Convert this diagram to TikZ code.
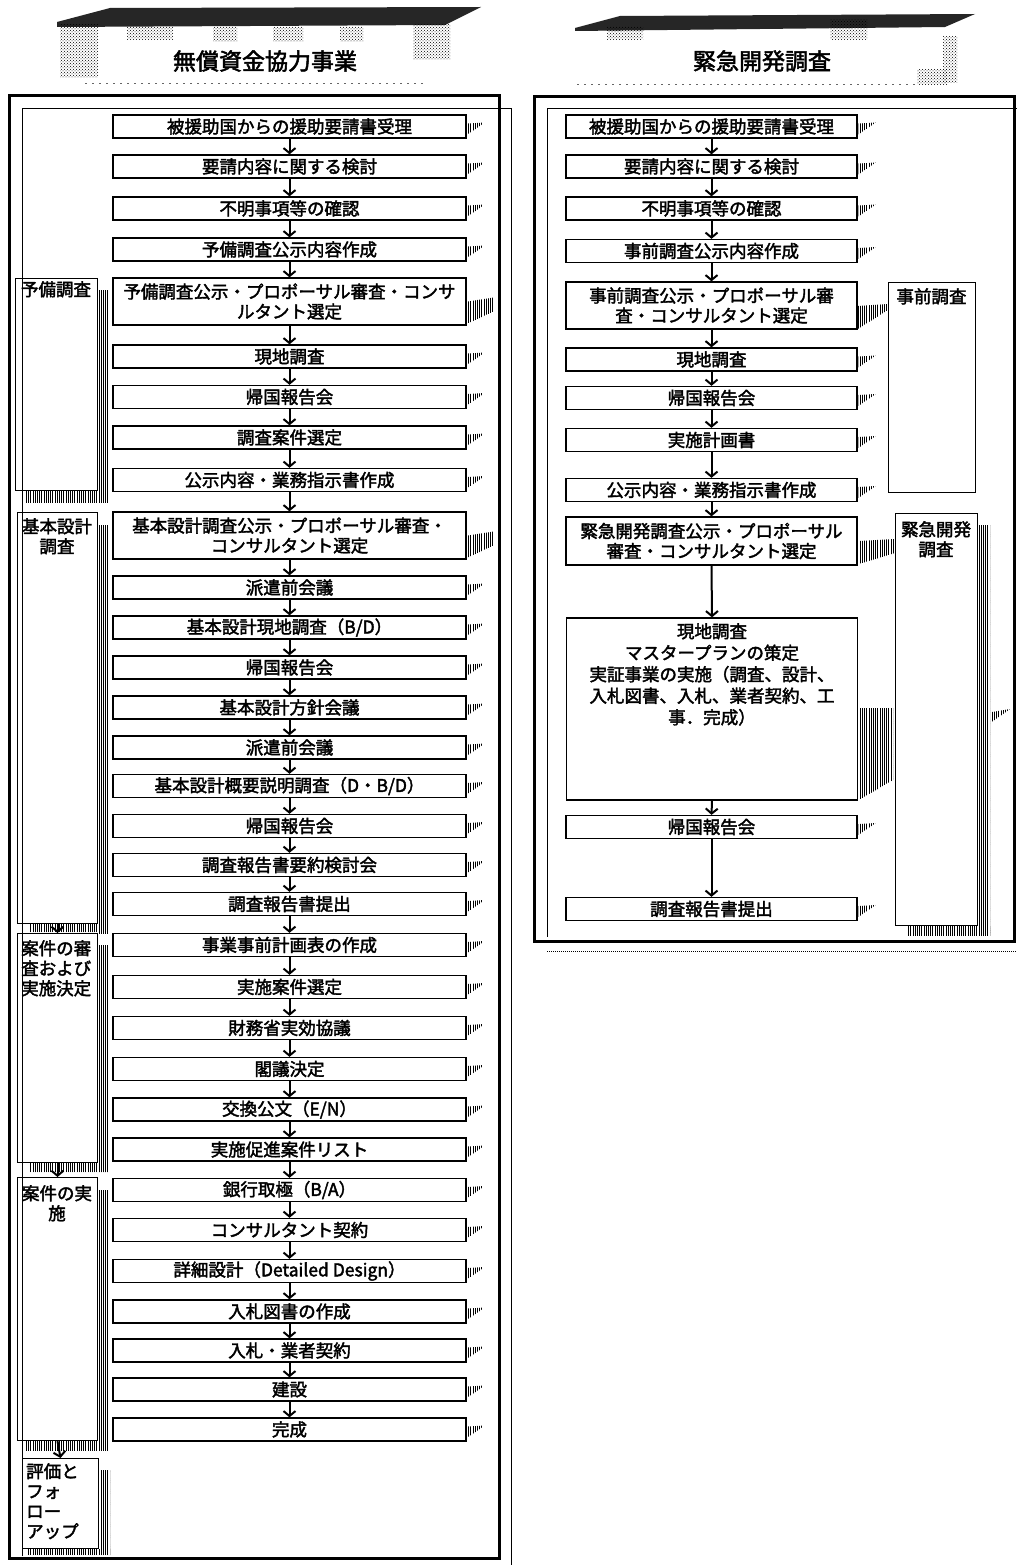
\documentclass[tikz,border=0pt]{standalone}
\usepackage{fontspec}
\setmainfont{Noto Sans CJK JP}
\newfontfamily\jpbold{Noto Sans CJK JP}[FakeBold=2.2]
\usetikzlibrary{arrows.meta,patterns,patterns.meta}
\tikzset{
  stepbox/.style={draw, line width=1.3pt, inner sep=0pt, align=center, minimum height=23pt},
  lb/.style={stepbox, minimum width=353pt},
  rb/.style={stepbox, minimum width=291pt},
  dbl/.style={minimum height=47pt},
  stage/.style={draw, line width=1pt, inner sep=0pt, anchor=north west},
  stagetext/.style={inner sep=0pt, anchor=north, align=center},
  arr/.style={-{Straight Barb[length=5pt,width=12pt,line width=2pt]}, line width=2pt},
  hatch/.style={pattern={Lines[angle=90,distance=2.2pt,line width=0.8pt]}},
  dither/.style={pattern=crosshatch dots},
}
\newcommand\stub[1]{\fill[hatch] (#1.east) ++(1,-3) -- ++(17,-1) -- ++(-17,12) -- cycle;}
\newcommand\stubb[1]{\fill[hatch] (#1.east) ++(1,0) -- ++(26,-4) -- ++(0,14) -- ++(-26,12) -- cycle;}
\begin{document}
\begin{tikzpicture}[x=1pt,y=-1pt,font=\jpbold\fontsize{17.5}{20}\selectfont]
\useasboundingbox (0,0) rectangle (1017,1565);
\fill[white] (0,0) rectangle (1017,1565);

% ---------- headers ----------
\fill[black!85] (57,22) -- (110,8) -- (481,7) -- (445,25) -- (57,27) -- cycle;
\fill[dither] (60,25) rectangle (98,78);
\fill[dither] (127,27) rectangle (173,40);
\fill[dither] (213,27) rectangle (237,42);
\fill[dither] (273,27) rectangle (303,42);
\fill[dither] (340,27) rectangle (363,42);
\fill[dither] (413,25) rectangle (450,60);
\draw[black!60, line width=0.6pt, dash pattern=on 2pt off 5pt] (85,83) -- (425,83);
\node[font=\jpbold\fontsize{23}{26}\selectfont] (T_left) at (265,61) {無償資金協力事業};

\fill[black!85] (575,28) -- (620,16) -- (975,14) -- (945,27) -- (575,31) -- cycle;
\fill[dither] (607,27) rectangle (643,40);
\fill[dither] (830,20) rectangle (867,40);
\fill[dither] (943,37) rectangle (957,83);
\fill[dither] (917,70) rectangle (947,85);
\draw[black!60, line width=0.6pt, dash pattern=on 2pt off 5pt] (577,84) -- (915,84);
\node[font=\jpbold\fontsize{23}{26}\selectfont] (T_right) at (762,61) {緊急開発調査};

% ---------- frames ----------
\draw[line width=0.8pt] (22,1556) -- (22,108) -- (511,108) -- (511,1565);
\draw[line width=3pt] (9,96) rectangle (499,1558);
\draw[line width=0.8pt] (1017,108) -- (547,108) -- (547,937);
\draw[line width=3pt] (534,97) rectangle (1014,941);
\draw[line width=1pt, densely dotted] (547,951) -- (1017,951);

% ---------- left stage boxes ----------
\fill[hatch] (98,290) rectangle (108,502);
\fill[hatch] (25,491) rectangle (108,502);
\node[stage, minimum width=82pt, minimum height=212pt] (S1) at (15,278) {};
\node[stagetext] (S1t) at (56,281) {予備調査};

\fill[hatch] (98,525) rectangle (109,933);
\fill[hatch] (30,924) rectangle (109,932);
\node[stage, minimum width=80pt, minimum height=411pt] (S2) at (17,512) {};
\node[stagetext] (S2t) at (57,518) {基本設計\\調査};

\fill[hatch] (98,945) rectangle (108,1172);
\fill[hatch] (30,1163) rectangle (108,1172);
\node[stage, minimum width=80pt, minimum height=229pt] (S3) at (17,933) {};
\node[stagetext, anchor=north west, align=left] (S3t) at (21,940) {案件の審\\査および\\実施決定};

\fill[hatch] (98,1190) rectangle (108,1450);
\fill[hatch] (25,1441) rectangle (108,1450);
\node[stage, minimum width=80pt, minimum height=263pt] (S4) at (17,1177) {};
\node[stagetext] (S4t) at (57,1185) {案件の実\\施};

\fill[hatch] (100,1470) rectangle (110,1555);
\fill[hatch] (28,1549) rectangle (110,1555);
\node[stage, minimum width=76pt, minimum height=90pt] (S5) at (22,1458) {};
\node[stagetext, anchor=north west, align=left] (S5t) at (26,1463) {評価と\\フォ\\ロー\\アップ};

\draw[arr] (S2.south) -- (S3.north);
\draw[arr] (S3.south) -- (S4.north);
\draw[arr] (S4.south) -- (S5.north);

% ---------- left flow ----------
\node[lb] (L1) at (289.5,126.5) {被援助国からの援助要請書受理};
\node[lb] (L2) at (289.5,166.5) {要請内容に関する検討};
\node[lb] (L3) at (289.5,208.5) {不明事項等の確認};
\node[lb] (L4) at (289.5,249.5) {予備調査公示内容作成};
\node[lb,dbl] (L5) at (289.5,301.5) {予備調査公示・プロポーサル審査・コンサ\\ルタント選定};
\node[lb] (L6) at (289.5,356.5) {現地調査};
\node[lb] (L7) at (289.5,397) {帰国報告会};
\node[lb] (L8) at (289.5,437.5) {調査案件選定};
\node[lb] (L9) at (289.5,480) {公示内容・業務指示書作成};
\node[lb,dbl] (L10) at (289.5,535.5) {基本設計調査公示・プロポーサル審査・\\コンサルタント選定};
\node[lb] (L11) at (289.5,587.5) {派遣前会議};
\node[lb] (L12) at (289.5,627.5) {基本設計現地調査（B/D）};
\node[lb] (L13) at (289.5,667.5) {帰国報告会};
\node[lb] (L14) at (289.5,707.5) {基本設計方針会議};
\node[lb] (L15) at (289.5,747.5) {派遣前会議};
\node[lb] (L16) at (289.5,786) {基本設計概要説明調査（D・B/D）};
\node[lb] (L17) at (289.5,826) {帰国報告会};
\node[lb] (L18) at (289.5,865) {調査報告書要約検討会};
\node[lb] (L19) at (289.5,904) {調査報告書提出};
\node[lb] (L20) at (289.5,945) {事業事前計画表の作成};
\node[lb] (L21) at (289.5,987) {実施案件選定};
\node[lb] (L22) at (289.5,1028) {財務省実効協議};
\node[lb] (L23) at (289.5,1069) {閣議決定};
\node[lb] (L24) at (289.5,1109.5) {交換公文（E/N）};
\node[lb] (L25) at (289.5,1149.5) {実施促進案件リスト};
\node[lb] (L26) at (289.5,1190) {銀行取極（B/A）};
\node[lb] (L27) at (289.5,1230) {コンサルタント契約};
\node[lb] (L28) at (289.5,1271) {詳細設計（Detailed Design）};
\node[lb] (L29) at (289.5,1311.5) {入札図書の作成};
\node[lb] (L30) at (289.5,1350.5) {入札・業者契約};
\node[lb] (L31) at (289.5,1389.5) {建設};
\node[lb] (L32) at (289.5,1429.5) {完成};

\foreach \n in {L1,L2,L3,L4,L6,L7,L8,L9,L11,L12,L13,L14,L15,L16,L17,L18,L19,L20,L21,L22,L23,L24,L25,L26,L27,L28,L29,L30,L31,L32} {\stub{\n}}
\stubb{L5}
\stubb{L10}

\foreach \i [evaluate=\i as \j using int(\i+1)] in {1,...,31} {\draw[arr] (L\i.south) -- (L\j.north);}

% ---------- right stage boxes ----------
\fill[hatch] (858,306) -- (888,304) -- (888,310) -- (858,329) -- cycle;
\fill[hatch] (859,541) -- (895,539) -- (895,553) -- (859,564) -- cycle;
\fill[hatch] (859,708) -- (893,708) -- (893,780) -- (859,800) -- cycle;
\fill[hatch] (992,712) -- (1010,709) -- (992,722) -- cycle;
\fill[hatch] (978,525) rectangle (990,935);
\fill[hatch] (908,926) rectangle (990,935);
\node[stage, minimum width=87pt, minimum height=210pt] (T1) at (888,282) {};
\node[stagetext] (T1t) at (931.5,288) {事前調査};
\node[stage, minimum width=82pt, minimum height=412pt] (T2) at (895,513) {};
\node[stagetext] (T2t) at (936,521) {緊急開発\\調査};

% ---------- right flow ----------
\node[rb] (R1) at (711.5,126.5) {被援助国からの援助要請書受理};
\node[rb] (R2) at (711.5,166.5) {要請内容に関する検討};
\node[rb] (R3) at (711.5,208.5) {不明事項等の確認};
\node[rb] (R4) at (711.5,251) {事前調査公示内容作成};
\node[rb,dbl] (R5) at (711.5,305.5) {事前調査公示・プロポーサル審\\査・コンサルタント選定};
\node[rb] (R6) at (711.5,359.5) {現地調査};
\node[rb] (R7) at (711.5,398) {帰国報告会};
\node[rb] (R8) at (711.5,440) {実施計画書};
\node[rb] (R9) at (711.5,490) {公示内容・業務指示書作成};
\node[rb,minimum height=48pt] (R10) at (711.5,541) {緊急開発調査公示・プロポーサル\\審査・コンサルタント選定};
\node[rb,minimum height=182pt] (R11) at (712,709) {};
\node[stagetext, font=\jpbold\fontsize{17.5}{21.5}\selectfont] (R11t) at (712,623) {現地調査\\マスタープランの策定\\実証事業の実施（調査、設計、\\入札図書、入札、業者契約、工\\事．完成）};
\node[rb] (R12) at (711.5,827) {帰国報告会};
\node[rb] (R13) at (711.5,909) {調査報告書提出};

\foreach \n in {R1,R2,R3,R4,R6,R7,R8,R9,R12,R13} {\stub{\n}}

\foreach \a/\b in {R1/R2,R2/R3,R3/R4,R4/R5,R5/R6,R6/R7,R7/R8,R8/R9,R9/R10,R10/R11,R11/R12,R12/R13}
  {\draw[arr] (\a.south) -- (\b.north);}
\end{tikzpicture}
\end{document}
